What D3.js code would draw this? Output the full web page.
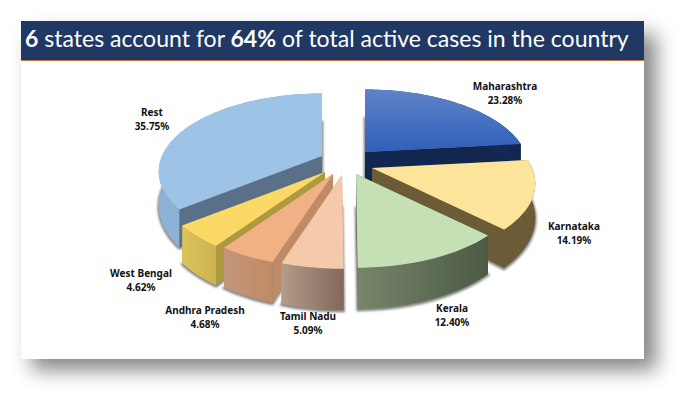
<!DOCTYPE html>
<html><head><meta charset="utf-8">
<script src="https://cdnjs.cloudflare.com/ajax/libs/d3/7.8.5/d3.min.js"></script>
<style>html,body{margin:0;padding:0;background:#fff}svg{display:block}</style>
</head><body><svg id="c" width="686" height="401"></svg>
<script>
const states = ["Maharashtra","Karnataka","Kerala","Tamil Nadu","Andhra Pradesh","West Bengal","Rest"];
const shares = [23.28,14.19,12.40,5.09,4.68,4.62,35.75];
const titleParts = [["6",700],[" states account for ",400],["64%",700],[" of total active cases in the country",400]];

// styling (not data)
const topA  = ["#5f83c8","#fce49a","#c5e0b4","#f5caab","#f2b184","#fbd966","#9dc3e6"];
const topB  = ["#2f5fb8","#fce49a","#c5e0b4","#f5caab","#f2b184","#fbd966","#9dc3e6"];
const edge  = ["#13264f","#6b5b36","#505e48","#bd8a68","#c08a66","#ae9a3e","#5a7088"];
const wallA = ["#1c3a7a","#6b5b36","#76866a","#b39c8a","#c4967a","#dcc35e","#8db4d8"];
const wallB = ["#13264f","#6b5b36","#4c5a45","#83685a","#c08a66","#cdb34f","#7aa0c2"];
const apexX = [365,372,356,342,333,325,322];
const apexY = [152,168,174,175,174,172,156];
const paintOrder = [6,0,1,5,4,3,2];
const labelX = [505,574,452,308,205,141,152];
const labelY = [90,230,312,320,314,277,116];

const RX=160, RY=75, K=0.2, DEPTH=33;
const svg = d3.select("#c");
const defs = svg.append("defs");

const ps = defs.append("filter").attr("id","panelShadow").attr("x","-10%").attr("y","-10%").attr("width","125%").attr("height","130%");
ps.append("feGaussianBlur").attr("stdDeviation",10);
const ss = defs.append("filter").attr("id","sliceShadow").attr("x","-10%").attr("y","-10%").attr("width","120%").attr("height","120%");
ss.append("feGaussianBlur").attr("stdDeviation",1.1);

svg.append("rect").attr("x",32).attr("y",34).attr("width",624).attr("height",336).attr("fill","#5c5c5c").attr("opacity",.75).attr("filter","url(#panelShadow)");
svg.append("rect").attr("x",21).attr("y",21).attr("width",623).attr("height",338).attr("fill","#fff");
svg.append("rect").attr("x",21).attr("y",21).attr("width",623).attr("height",39).attr("fill","#1f3864");
svg.append("rect").attr("x",21).attr("y",60).attr("width",623).attr("height",1).attr("fill","#c07a3c");

const title = svg.append("text").attr("x",25).attr("y",47).attr("fill","#fff")
  .attr("font-family","Lato").attr("font-size",24).style("white-space","pre");
title.selectAll("tspan").data(titleParts).join("tspan")
  .attr("font-weight",d=>d[1]).text(d=>d[0]);
title.attr("font-size",24*604/title.node().getComputedTextLength());

const pie = d3.pie().sort(null).startAngle(0).endAngle(2*Math.PI);
const arcs = pie(shares);
const line = d3.line();

function project(i,a,down){
  const u=Math.sin(a), v=Math.cos(a), s=1/(1+K*v);
  return [apexX[i]+RX*u*s, apexY[i]-RY*v*s+(down?DEPTH*s:0)];
}
function rim(i,d,down){
  const n=Math.max(8,Math.ceil((d.endAngle-d.startAngle)*40));
  return d3.range(n+1).map(k=>project(i,d.startAngle+(d.endAngle-d.startAngle)*k/n,down));
}
function grad(id,c1,c2,vertical){
  const g=defs.append("linearGradient").attr("id",id).attr("x1",0).attr("y1",0).attr("x2",vertical?0:1).attr("y2",vertical?1:0);
  g.append("stop").attr("offset",0).attr("stop-color",c1);
  g.append("stop").attr("offset",1).attr("stop-color",c2);
  return `url(#${id})`;
}

paintOrder.forEach(i=>{
  const d=arcs[i], g=svg.append("g");
  const ax=apexX[i], ay=apexY[i];
  const apexLow=[ax,ay+DEPTH];
  // soft shadow thrown by the underside of the slice
  g.append("path").attr("fill","#333").attr("stroke","#333").attr("stroke-width",2.5).attr("opacity",.6)
    .attr("filter","url(#sliceShadow)").attr("transform","translate(0,1)")
    .attr("d",line([apexLow].concat(rim(i,d,true)))+"Z");
  // radial cut walls
  [d.startAngle,d.endAngle].forEach(a=>{
    g.append("path").attr("fill",edge[i])
      .attr("d",line([[ax,ay],project(i,a,false),project(i,a,true),apexLow])+"Z");
  });
  // outer wall
  const fill=grad("w"+i,wallA[i],wallB[i],false);
  g.append("path").attr("fill",fill)
    .attr("d",line(rim(i,d,false).concat(rim(i,d,true).reverse()))+"Z");
  // top face
  g.append("path").attr("fill",grad("t"+i,topA[i],topB[i],true))
    .attr("d",line([[ax,ay]].concat(rim(i,d,false)))+"Z");
});

const lab = svg.append("g").attr("font-family","Noto Sans").attr("font-weight",700).attr("font-size",10).attr("fill","#111").attr("text-anchor","middle");
states.forEach((n,i)=>{
  lab.append("text").attr("x",labelX[i]).attr("y",labelY[i]).text(n);
  lab.append("text").attr("x",labelX[i]).attr("y",labelY[i]+14).text(shares[i].toFixed(2)+"%");
});
</script></body></html>
